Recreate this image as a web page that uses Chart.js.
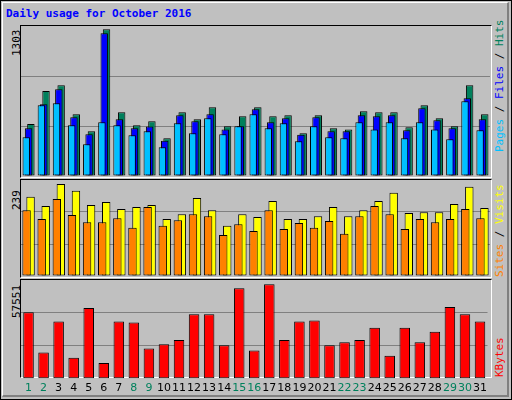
<!DOCTYPE html>
<html><head><meta charset="utf-8">
<script src="https://cdn.jsdelivr.net/npm/chart.js@4/dist/chart.umd.min.js"></script>
<style>
body{margin:0;width:512px;height:400px;background:#fff;position:relative;overflow:hidden;font-family:"DejaVu Sans Mono",monospace}
#frame{position:absolute;left:0;top:0;width:510px;height:398px;background:#c0c0c0;border:1px solid #000}
#inner{position:absolute;left:1px;top:1px;width:504px;height:392px;border-right:2px solid #808080;border-bottom:2px solid #808080;border-left:1px solid #fff;border-top:1px solid #fff}
.panel{position:absolute;border-top:1px solid #000;border-left:1px solid #000;border-right:1px solid #fff;border-bottom:1px solid #fff}
canvas{position:absolute}
.t{position:absolute;font-size:11px;white-space:nowrap}
.rot{position:absolute;transform-origin:0 0;transform:rotate(-90deg);white-space:nowrap;font-size:11px;line-height:13px}
</style></head><body>
<div id="frame"><div id="inner"></div></div>
<div class="t" style="left:6px;top:7px;color:#0000ff;font-weight:bold">Daily usage for October 2016</div>
<div class="panel" style="left:20px;top:25px;width:470px;height:151px"></div>
<div class="panel" style="left:20px;top:179px;width:470px;height:97px"></div>
<div class="panel" style="left:20px;top:279px;width:470px;height:97px"></div>
<div class="rot" style="left:10px;top:56px;color:#000">1303</div>
<div class="rot" style="left:10px;top:210px;color:#000">239</div>
<div class="rot" style="left:10px;top:318px;color:#000">57551</div>
<div class="rot" style="left:493px;top:152px"><span style="color:#00c0ff">Pages</span> / <span style="color:#0000ff">Files</span> / <span style="color:#00805c">Hits</span></div>
<div class="rot" style="left:493px;top:277px"><span style="color:#ff8000">Sites</span> / <span style="color:#ffff00">Visits</span></div>
<div class="rot" style="left:493px;top:377px;color:#ff0000">KBytes</div>
<canvas id="c1" style="left:21px;top:26px;width:469px;height:150px"></canvas>
<canvas id="c2" style="left:21px;top:180px;width:469px;height:96px"></canvas>
<canvas id="c3" style="left:21px;top:280px;width:469px;height:118px"></canvas>
<script>
const days=["1","2","3","4","5","6","7","8","9","10","11","12","13","14","15","16","17","18","19","20","21","22","23","24","25","26","27","28","29","30","31"];
const weekend=[1,2,8,9,15,16,22,23,29,30];
const hits=[452,738,788,536,388,1274,553,440,475,327,553,492,597,432,518,597,518,527,371,527,414,405,562,553,553,423,614,501,432,788,536];
const files=[414,623,753,510,362,1240,492,414,429,307,527,475,536,405,432,579,466,501,359,510,388,388,527,518,527,397,588,484,414,675,492];
const pages=[336,614,631,440,275,466,440,353,388,249,458,371,501,362,432,536,414,458,301,432,336,327,466,405,466,327,466,405,319,649,397];
const visits=[197,174,229,212,177,184,167,172,177,142,154,194,164,125,154,147,187,142,142,149,172,149,164,187,207,157,159,159,179,222,169];
const sites=[164,142,192,152,134,134,144,120,172,125,139,154,149,102,129,112,164,117,132,120,137,105,149,174,154,117,142,134,142,167,144];
const kbytes=[38833,15291,33400,12273,41246,9255,33400,32796,17706,20120,22534,37625,37625,19517,52714,16498,55129,22534,33400,34004,19517,21327,22534,29778,13480,29778,21327,27363,41850,37625,33400];
const max1=1303,max2=239,max3=57551;
function ds(data,color,bp,cp,order){return {data,order,backgroundColor:color,borderColor:'#000',borderWidth:1,borderSkipped:false,barPercentage:bp,categoryPercentage:cp};}
function yScale(max){return {display:true,min:0,max,ticks:{display:false,stepSize:max/3},border:{display:false},
 grid:{drawTicks:false,tickLength:0,color:c=>(c.tick&&(c.tick.value<=0||c.tick.value>=max))?'rgba(0,0,0,0)':'#808080'}};}
function make(id,datasets,max,showX){
 new Chart(document.getElementById(id),{type:'bar',data:{labels:days,datasets},
  options:{responsive:false,animation:false,devicePixelRatio:1,layout:{padding:0},
   plugins:{legend:{display:false},tooltip:{enabled:false}},
   scales:{x:{display:showX,grid:{display:false,drawTicks:false},border:{display:false},
     ticks:{padding:3,maxRotation:0,autoSkip:false,font:{family:'DejaVu Sans',size:11},
       color:c=>weekend.includes(c.index+1)?'#00805c':'#000'}},
     y:yScale(max)}}});
}
document.getElementById('c1').width=469;document.getElementById('c1').height=150;
document.getElementById('c2').width=469;document.getElementById('c2').height=96;
document.getElementById('c3').width=469;document.getElementById('c3').height=118;
make('c1',[ds(hits,'#00805c',3.2,0.46,3),ds(files,'#0000ff',3.2,0.46,2),ds(pages,'#00c0ff',3.2,0.46,1)],max1,false);
make('c2',[ds(visits,'#ffff00',2.1,0.53,2),ds(sites,'#ff8000',2.1,0.53,1)],max2,false);
make('c3',[ds(kbytes,'#ff0000',0.7,1,1)],max3,true);
</script>
</body></html>
